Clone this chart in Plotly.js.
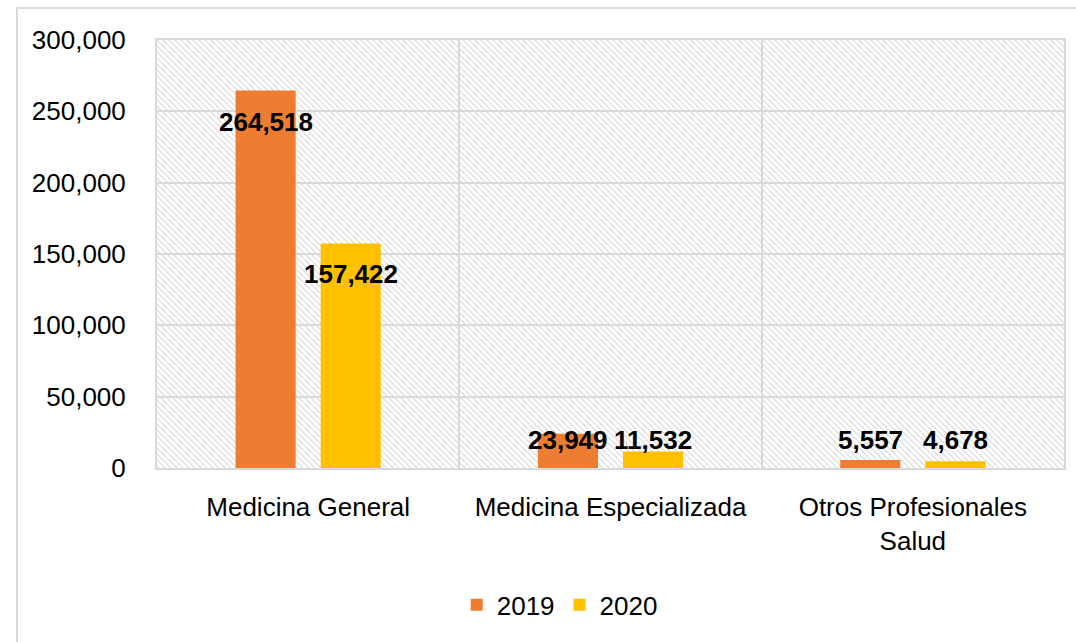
<!DOCTYPE html>
<html>
<head>
<meta charset="utf-8">
<script src="https://cdn.plot.ly/plotly-3.0.1.min.js"></script>
<style>html,body{margin:0;padding:0;background:#fff;}#chart{width:1076px;height:642px;}</style>
</head>
<body>
<div id="chart"></div>
<script>
const categories = ['Medicina General', 'Medicina Especializada', 'Otros Profesionales<br>Salud'];
const values2019 = [264518, 23949, 5557];
const values2020 = [157422, 11532, 4678];
const seriesNames = ['2019', '2020'];
const yTickVals = [0, 50000, 100000, 150000, 200000, 250000, 300000];
const yTickText = ['0', '50,000', '100,000', '150,000', '200,000', '250,000', '300,000'];

const FONT = '"Liberation Sans Narrow", "Arial Narrow", "Liberation Sans", Arial, sans-serif';
const colors = ['#ED7D31', '#FFC000'];

const traces = [values2019, values2020].map((vals, i) => ({
  type: 'bar',
  name: seriesNames[i],
  x: categories,
  y: vals,
  marker: {color: colors[i]},
  textposition: 'none',
  hoverinfo: 'skip'
}));

// hatch background
const W = 907, H = 428;
const svg = `<svg xmlns="http://www.w3.org/2000/svg" width="${W}" height="${H}" viewBox="0 0 ${W} ${H}" preserveAspectRatio="none">` +
  `<defs><pattern id="p" width="6" height="6" patternUnits="userSpaceOnUse">` +
  `<path d="M-1,-1 L7,7 M-1,5 L1,7 M5,-1 L7,1" stroke="#d9d9d9" stroke-width="1.2"/></pattern></defs>` +
  `<rect width="${W}" height="${H}" fill="#fff"/><rect width="${W}" height="${H}" fill="url(#p)"/></svg>`;
const src = 'data:image/svg+xml;charset=utf-8,' + encodeURIComponent(svg);

const annotations = [];
[values2019, values2020].forEach((vals, i) => {
  vals.forEach((v, j) => {
    const big = v > 50000;
    annotations.push({
      x: categories[j], y: big ? v : 0, xref: 'x', yref: 'y',
      text: v.toLocaleString('en-US'),
      showarrow: false,
      xshift: i === 0 ? -42.5 : 42.5,
      yshift: big ? -31 : 28,
      font: {family: FONT, size: 26, color: '#000', weight: 'bold'},
      xanchor: 'center', yanchor: 'middle'
    });
  });
});

const layout = {
  width: 1076, height: 642,
  margin: {l: 157, r: 12, t: 40, b: 174},
  paper_bgcolor: '#fff',
  plot_bgcolor: 'rgba(0,0,0,0)',
  barmode: 'group',
  bargap: 0.437,
  bargroupgap: 0.294,
  font: {family: FONT, size: 26, color: '#000'},
  showlegend: true,
  legend: {
    orientation: 'h', x: 0.444, xanchor: 'center', y: -0.32, yanchor: 'middle',
    font: {family: FONT, size: 26, color: '#000'},
    itemwidth: 30, traceorder: 'normal'
  },
  xaxis: {
    type: 'category',
    tickson: 'boundaries',
    showgrid: true, gridcolor: '#d9d9d9', gridwidth: 2,
    showline: true, linecolor: '#d9d9d9', linewidth: 2, mirror: true,
    ticks: '', tickfont: {family: FONT, size: 26, color: '#000'},
    ticklabelstandoff: 15
  },
  yaxis: {
    range: [0, 300000],
    tickvals: yTickVals, ticktext: yTickText,
    showgrid: true, gridcolor: '#d9d9d9', gridwidth: 2,
    showline: true, linecolor: '#d9d9d9', linewidth: 2, mirror: true,
    zeroline: false,
    ticks: '', tickfont: {family: FONT, size: 26, color: '#000'},
    ticklabelstandoff: 24
  },
  images: [{
    source: src, xref: 'paper', yref: 'paper', x: 0, y: 1, sizex: 1, sizey: 1,
    xanchor: 'left', yanchor: 'top', sizing: 'stretch', layer: 'below'
  }],
  shapes: [{
    type: 'rect', xref: 'paper', yref: 'paper',
    x0: (17 - 157) / 907, x1: (1085 - 157) / 907,
    y0: (468 - 660) / 428, y1: (468 - 8) / 428,
    line: {color: '#d9d9d9', width: 2}, fillcolor: 'rgba(0,0,0,0)', layer: 'below'
  }],
  annotations: annotations
};

Plotly.newPlot('chart', traces, layout, {displayModeBar: false, staticPlot: true});
</script>
</body>
</html>
